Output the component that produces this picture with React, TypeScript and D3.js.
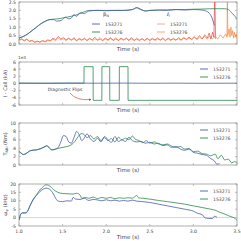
import React from 'react';
import * as d3 from 'd3';

// shot labels
const shots = ['153271', '153276'];

// beta_N [time, value]
const betaN271 = [
  [1.0, 0.35], [1.05, 0.45], [1.1, 0.6], [1.15, 0.8], [1.2, 1.0], [1.25, 1.2], [1.3, 1.35], [1.35, 1.45],
  [1.4, 1.45], [1.43, 1.36], [1.47, 1.38], [1.5, 1.45], [1.53, 1.6], [1.57, 1.5], [1.6, 1.55], [1.63, 1.75],
  [1.66, 1.65], [1.7, 1.85], [1.75, 1.82], [1.8, 1.96], [1.9, 2.0], [2.0, 1.98], [2.1, 2.0], [2.2, 2.0],
  [2.3, 2.05], [2.35, 2.15], [2.4, 2.05], [2.45, 1.96], [2.5, 2.0], [2.6, 2.02], [2.7, 2.0], [2.8, 2.05],
  [2.9, 2.02], [3.0, 2.05], [3.1, 2.02], [3.15, 1.95], [3.18, 1.85], [3.21, 1.6], [3.24, 1.1],
];
const betaN276 = [
  [1.0, 0.35], [1.05, 0.45], [1.1, 0.6], [1.15, 0.8], [1.2, 1.0], [1.25, 1.2], [1.3, 1.35], [1.35, 1.45],
  [1.4, 1.48], [1.45, 1.5], [1.5, 1.55], [1.55, 1.6], [1.6, 1.65], [1.65, 1.72], [1.7, 1.82], [1.75, 1.92],
  [1.8, 2.0], [1.9, 2.0], [2.0, 2.0], [2.1, 2.0], [2.2, 2.0], [2.3, 2.05], [2.35, 2.17], [2.4, 2.05],
  [2.45, 1.97], [2.5, 2.0], [2.6, 2.02], [2.7, 2.03], [2.8, 2.05], [2.9, 2.05], [3.0, 2.07], [3.1, 2.08],
  [3.2, 2.1], [3.3, 2.1], [3.36, 2.1], [3.4, 2.05], [3.45, 1.8], [3.5, 1.5],
];

// l_i [time, value]
const li271 = [
  [1.0, 0.25], [1.03, 0.3], [1.06, 0.18], [1.09, 0.28], [1.12, 0.15], [1.15, 0.2], [1.18, 0.1], [1.21, 0.15],
  [1.24, 0.12], [1.27, 0.2], [1.3, 0.15], [1.33, 0.25], [1.36, 0.2], [1.39, 0.35], [1.42, 0.25], [1.45, 0.45],
  [1.48, 0.3], [1.51, 0.38], [1.54, 0.25], [1.57, 0.35], [1.6, 0.22], [1.63, 0.38], [1.66, 0.2], [1.69, 0.3],
  [1.72, 0.22], [1.75, 0.35], [1.78, 0.2], [1.81, 0.32], [1.84, 0.25], [1.87, 0.4], [1.9, 0.22], [1.93, 0.3],
  [1.96, 0.2], [1.99, 0.35], [2.02, 0.25], [2.05, 0.38], [2.08, 0.2], [2.11, 0.3], [2.14, 0.22], [2.17, 0.35],
  [2.2, 0.25], [2.23, 0.33], [2.26, 0.2], [2.29, 0.38], [2.32, 0.22], [2.35, 0.3], [2.38, 0.2], [2.41, 0.32],
  [2.44, 0.22], [2.47, 0.35], [2.5, 0.2], [2.53, 0.3], [2.56, 0.25], [2.59, 0.36], [2.62, 0.22], [2.65, 0.32],
  [2.68, 0.2], [2.71, 0.35], [2.74, 0.25], [2.77, 0.3], [2.8, 0.22], [2.83, 0.38], [2.86, 0.25], [2.89, 0.35],
  [2.92, 0.28], [2.95, 0.42], [2.98, 0.25], [3.01, 0.4], [3.04, 0.3], [3.07, 0.5], [3.1, 0.3], [3.13, 0.55],
  [3.16, 0.35], [3.18, 0.65], [3.2, 0.3], [3.22, 0.7], [3.235, 0.4], [3.245, 3.0], [3.255, 0.3],
];
const li276 = [
  [1.0, 0.2], [1.03, 0.28], [1.06, 0.22], [1.09, 0.3], [1.12, 0.18], [1.15, 0.22], [1.18, 0.12], [1.21, 0.18],
  [1.24, 0.1], [1.27, 0.18], [1.3, 0.12], [1.33, 0.2], [1.36, 0.18], [1.39, 0.28], [1.42, 0.2], [1.45, 0.35],
  [1.48, 0.25], [1.51, 0.3], [1.54, 0.2], [1.57, 0.32], [1.6, 0.25], [1.63, 0.3], [1.66, 0.18], [1.69, 0.35],
  [1.72, 0.25], [1.75, 0.3], [1.78, 0.22], [1.81, 0.36], [1.84, 0.2], [1.87, 0.3], [1.9, 0.25], [1.93, 0.38],
  [1.96, 0.22], [1.99, 0.3], [2.02, 0.2], [2.05, 0.32], [2.08, 0.25], [2.11, 0.38], [2.14, 0.2], [2.17, 0.3],
  [2.2, 0.22], [2.23, 0.36], [2.26, 0.25], [2.29, 0.3], [2.32, 0.2], [2.35, 0.35], [2.38, 0.25], [2.41, 0.3],
  [2.44, 0.2], [2.47, 0.3], [2.5, 0.25], [2.53, 0.35], [2.56, 0.2], [2.59, 0.3], [2.62, 0.25], [2.65, 0.38],
  [2.68, 0.22], [2.71, 0.3], [2.74, 0.2], [2.77, 0.35], [2.8, 0.25], [2.83, 0.3], [2.86, 0.22], [2.89, 0.4],
  [2.92, 0.25], [2.95, 0.35], [2.98, 0.3], [3.01, 0.45], [3.04, 0.25], [3.07, 0.4], [3.1, 0.3], [3.13, 0.45],
  [3.16, 0.28], [3.19, 0.5], [3.22, 0.3], [3.25, 0.45], [3.28, 0.3], [3.31, 0.55], [3.34, 0.35], [3.37, 0.6],
  [3.385, 0.4], [3.39, 3.0], [3.395, 0.5], [3.41, 0.9], [3.42, 0.4], [3.43, 1.0], [3.44, 0.5], [3.45, 0.8],
  [3.46, 0.35], [3.47, 0.7], [3.48, 0.4], [3.49, 0.6], [3.5, 0.3],
];

// I - C_all (kA)
const coil271 = [
  [1.0, 100], [1.3, 60], [1.6, 120], [1.9, 80], [2.2, 110], [2.5, 70], [2.8, 100], [3.1, 60], [3.5, 90],
];
const coil276 = [
  [1.0, 80], [1.745, 80], [1.746, 4700], [1.85, 4700], [1.851, -4700], [1.95, -4700], [1.951, 4700],
  [2.04, 4700], [2.041, -4700], [2.15, -4700], [2.151, 4700], [2.25, 4700], [2.251, -4700], [3.5, -4700],
];

// T_NBI (Nm)
const torque271 = [
  [1.0, 3.2], [1.02, 2.9], [1.05, 2.5], [1.08, 2.7], [1.12, 3.3], [1.15, 3.5], [1.2, 3.6], [1.25, 3.9],
  [1.3, 4.4], [1.32, 4.6], [1.35, 4.0], [1.38, 3.6], [1.42, 3.8], [1.45, 4.2], [1.48, 5.5], [1.51, 7.0],
  [1.54, 6.8], [1.57, 5.5], [1.6, 5.2], [1.63, 6.5], [1.66, 8.0], [1.69, 7.2], [1.72, 5.8], [1.75, 6.5],
  [1.78, 7.4], [1.82, 6.2], [1.86, 5.6], [1.9, 6.4], [1.94, 5.5], [1.98, 6.8], [2.02, 6.0], [2.06, 5.4],
  [2.1, 6.8], [2.14, 5.6], [2.18, 6.0], [2.22, 5.6], [2.26, 6.6], [2.3, 5.8], [2.35, 5.5], [2.4, 5.6],
  [2.45, 5.2], [2.5, 5.4], [2.55, 5.0], [2.6, 5.2], [2.65, 4.6], [2.7, 4.8], [2.75, 4.2], [2.8, 4.4],
  [2.85, 3.8], [2.9, 3.5], [2.95, 3.8], [3.0, 3.0], [3.05, 2.8], [3.1, 2.5], [3.15, 2.3], [3.2, 1.5],
  [3.24, 1.0], [3.27, 0.2], [3.3, 0.3],
];
const torque276 = [
  [1.0, 3.2], [1.02, 2.9], [1.05, 2.5], [1.08, 2.7], [1.12, 3.3], [1.15, 3.5], [1.2, 3.6], [1.25, 3.9],
  [1.3, 4.4], [1.32, 4.6], [1.35, 4.0], [1.38, 3.6], [1.42, 3.8], [1.48, 4.1], [1.55, 4.4], [1.6, 4.8],
  [1.64, 5.6], [1.68, 6.8], [1.72, 7.5], [1.75, 7.2], [1.78, 6.5], [1.82, 7.0], [1.86, 6.2], [1.9, 6.8],
  [1.94, 5.8], [1.98, 6.5], [2.02, 5.8], [2.06, 6.3], [2.1, 5.5], [2.14, 6.6], [2.18, 6.0], [2.22, 6.4],
  [2.26, 6.0], [2.3, 6.9], [2.33, 6.2], [2.38, 5.8], [2.42, 5.3], [2.46, 5.8], [2.5, 5.2], [2.55, 5.5],
  [2.6, 5.0], [2.65, 4.8], [2.7, 5.0], [2.75, 4.5], [2.8, 4.2], [2.85, 4.4], [2.9, 3.8], [2.95, 3.9],
  [3.0, 3.2], [3.05, 3.3], [3.1, 2.7], [3.15, 2.6], [3.2, 2.2], [3.25, 2.6], [3.28, 1.5], [3.32, 2.3],
  [3.36, 1.2], [3.4, 1.4], [3.44, 0.5], [3.47, 0.8], [3.5, 0.6],
];

// omega_phi (kHz)
const omega271 = [
  [1.0, -1.5], [1.02, 2.0], [1.04, 2.8], [1.08, 2.8], [1.1, 4.0], [1.13, 7.5], [1.16, 10.5], [1.2, 13.2],
  [1.24, 15.5], [1.28, 17.0], [1.31, 17.5], [1.34, 17.2], [1.37, 16.0], [1.4, 13.5], [1.42, 11.5], [1.45, 9.8],
  [1.5, 9.5], [1.55, 10.0], [1.6, 9.8], [1.62, 12.0], [1.65, 11.0], [1.7, 10.8], [1.75, 11.5], [1.8, 10.2],
  [1.85, 10.8], [1.9, 10.5], [1.95, 10.0], [2.0, 10.6], [2.05, 10.0], [2.1, 10.4], [2.15, 9.8], [2.2, 10.2],
  [2.25, 9.8], [2.3, 10.4], [2.35, 9.8], [2.4, 9.6], [2.5, 9.0], [2.6, 8.0], [2.7, 7.0], [2.8, 6.0],
  [2.9, 5.0], [3.0, 3.8], [3.05, 2.5], [3.1, 1.8], [3.13, 0.0], [3.17, -0.5], [3.22, -0.5], [3.24, 0.8],
  [3.27, 0.2],
];
const omega276 = [
  [1.0, -1.5], [1.02, 2.0], [1.04, 2.8], [1.08, 2.8], [1.1, 4.0], [1.13, 7.5], [1.16, 10.5], [1.2, 13.5],
  [1.24, 16.5], [1.28, 18.5], [1.31, 19.5], [1.34, 19.2], [1.37, 18.0], [1.4, 16.5], [1.44, 15.2], [1.48, 14.5],
  [1.55, 14.2], [1.62, 14.0], [1.66, 14.5], [1.7, 13.5], [1.72, 11.5], [1.76, 12.0], [1.8, 11.5], [1.85, 12.2],
  [1.9, 11.3], [1.95, 12.0], [2.0, 11.5], [2.05, 12.0], [2.1, 11.2], [2.15, 11.8], [2.2, 11.5], [2.25, 11.8],
  [2.3, 11.6], [2.33, 12.5], [2.35, 13.2], [2.37, 11.8], [2.42, 11.5], [2.5, 11.0], [2.6, 10.2], [2.7, 9.5],
  [2.8, 8.8], [2.9, 8.0], [3.0, 7.0], [3.1, 6.0], [3.2, 5.0], [3.26, 4.2], [3.3, 3.2], [3.35, 2.3],
  [3.4, 1.2], [3.45, 0.2], [3.48, -0.5], [3.5, -1.8],
];

const timeTicks = [1.0, 1.5, 2.0, 2.5, 3.0, 3.5];

const blue = '#4b5bab';
const green = '#2c8a4c';
const red = '#e8282e';
const orange = '#f07a2c';
const axisColor = '#9a9a9a';
const textColor = '#444';
const font = 'DejaVu Sans, sans-serif';

const left = 19;
const right = 237;

const x = d3.scaleLinear().domain([1.0, 3.5]).range([left, right]);

const panels = [
  { id: 'p1', top: 2, bottom: 44, domain: [0, 2.5], ticks: [0, 0.5, 1.0, 1.5, 2.0, 2.5], fmt: d3.format('.1f') },
  { id: 'p2', top: 62, bottom: 105, domain: [-6000, 6000], ticks: [-6000, -4000, -2000, 0, 2000, 4000, 6000], fmt: (v: number) => String(v / 1000) },
  { id: 'p3', top: 123, bottom: 165, domain: [0, 10], ticks: [0, 2, 4, 6, 8, 10], fmt: (v: number) => String(v) },
  { id: 'p4', top: 184, bottom: 226, domain: [-5, 20], ticks: [-5, 0, 5, 10, 15, 20], fmt: (v: number) => String(v) },
];

const yOf = (p: any) => d3.scaleLinear().domain(p.domain).range([p.bottom, p.top]);

const Frame = ({ p, showX }: any) => {
  const y = yOf(p);
  return (
    <g>
      <rect x={left} y={p.top} width={right - left} height={p.bottom - p.top} fill="none" stroke={axisColor} strokeWidth={0.8} />
      {p.ticks.map((t: number) => (
        <g key={t}>
          <line x1={left} x2={left + 2} y1={y(t)} y2={y(t)} stroke={axisColor} strokeWidth={0.6} />
          <line x1={right} x2={right - 2} y1={y(t)} y2={y(t)} stroke={axisColor} strokeWidth={0.6} />
          <text x={left - 3} y={y(t)} dy="0.35em" textAnchor="end" fontSize={4.6} fill={textColor} fontFamily={font}>
            {p.fmt(t)}
          </text>
        </g>
      ))}
      {timeTicks.map((t) => (
        <g key={t}>
          <line x1={x(t)} x2={x(t)} y1={p.bottom} y2={p.bottom - 2} stroke={axisColor} strokeWidth={0.6} />
          <line x1={x(t)} x2={x(t)} y1={p.top} y2={p.top + 2} stroke={axisColor} strokeWidth={0.6} />
          {showX && (
            <text x={x(t)} y={p.bottom + 6.5} textAnchor="middle" fontSize={4.6} fill={textColor} fontFamily={font}>
              {d3.format('.1f')(t)}
            </text>
          )}
        </g>
      ))}
      <text x={(left + right) / 2} y={p.bottom + (showX ? 13 : 6.5)} textAnchor="middle" fontSize={5.5} fill={textColor} fontFamily={font}>
        Time (s)
      </text>
    </g>
  );
};

const Series = ({ p, data, color, width = 0.8, jagged = false }: any) => {
  const y = yOf(p);
  const line = d3
    .line<number[]>()
    .x((d) => x(d[0]))
    .y((d) => y(d[1]))
    .curve(jagged ? d3.curveLinear : d3.curveMonotoneX);
  return <path d={line(data) || ''} fill="none" stroke={color} strokeWidth={width} clipPath={`url(#clip-${p.id})`} />;
};

const Legend = ({ x0, y0, colors, labels }: any) => (
  <g>
    {labels.map((l: string, i: number) => (
      <g key={l}>
        <line x1={x0} x2={x0 + 8} y1={y0 + i * 8} y2={y0 + i * 8} stroke={colors[i]} strokeWidth={0.9} />
        <text x={x0 + 13} y={y0 + i * 8} dy="0.35em" fontSize={4.6} fill={textColor} fontFamily={font}>
          {l}
        </text>
      </g>
    ))}
  </g>
);

const App = () => {
  const [p1, p2, p3, p4] = panels;
  const yLab = (p: any) => (p.top + p.bottom) / 2;
  const zero4 = yOf(p4)(0);
  return (
    <svg width={241} height={241} style={{ position: 'absolute', left: 0, top: 0, background: '#fff' }}>
      <defs>
        {panels.map((p) => (
          <clipPath key={p.id} id={`clip-${p.id}`}>
            <rect x={left} y={p.top} width={right - left} height={p.bottom - p.top} />
          </clipPath>
        ))}
        <marker id="arrow" viewBox="0 0 6 6" refX={5} refY={3} markerWidth={4} markerHeight={4} orient="auto">
          <path d="M0,0 L6,3 L0,6 z" fill={red} />
        </marker>
      </defs>

      {/* panel 1: beta_N and l_i */}
      <Frame p={p1} showX={false} />
      <Series p={p1} data={li271} color={red} width={0.6} jagged />
      <Series p={p1} data={li276} color={orange} width={0.6} jagged />
      <Series p={p1} data={betaN276} color={green} />
      <Series p={p1} data={betaN271} color={blue} />
      <text x={103} y={16} fontSize={5} fill={textColor} fontFamily={font}>
        β<tspan fontSize={3.5} dy={1}>N</tspan>
      </text>
      <Legend x0={92} y0={24} colors={[blue, green]} labels={shots} />
      <text x={167} y={16} fontSize={5} fill={textColor} fontFamily={font} fontStyle="italic">
        ℓ<tspan fontSize={3.5} dy={1}>i</tspan>
      </text>
      <Legend x0={157} y0={24} colors={['#f4a0a0', '#f4a070']} labels={shots} />

      {/* panel 2: coil current */}
      <Frame p={p2} showX={false} />
      <text x={18} y={59} fontSize={4.2} fill={textColor} fontFamily={font}>1e3</text>
      <Series p={p2} data={coil276} color={green} jagged />
      <Series p={p2} data={coil271} color={blue} />
      <Legend x0={200} y0={69} colors={[blue, green]} labels={shots} />
      <text x={65} y={91} textAnchor="middle" fontSize={4.4} fill={textColor} fontFamily={font}>
        Diagnostic Flips
      </text>
      <path d="M70,93 Q76,101 91,99.5" fill="none" stroke={red} strokeWidth={0.6} markerEnd="url(#arrow)" />
      <text transform={`translate(7,${yLab(p2)}) rotate(-90)`} textAnchor="middle" fontSize={5} fill={textColor} fontFamily={font}>
        I - Call (kA)
      </text>

      {/* panel 3: torque */}
      <Frame p={p3} showX={false} />
      <Series p={p3} data={torque276} color={green} />
      <Series p={p3} data={torque271} color={blue} />
      <Legend x0={200} y0={130} colors={[blue, green]} labels={shots} />
      <text transform={`translate(7,${yLab(p3)}) rotate(-90)`} textAnchor="middle" fontSize={5} fill={textColor} fontFamily={font}>
        T<tspan fontSize={3.5} dy={1}>NBI</tspan>
        <tspan dy={-1}> (Nm)</tspan>
      </text>

      {/* panel 4: rotation */}
      <Frame p={p4} showX={true} />
      <line x1={left} x2={right} y1={zero4} y2={zero4} stroke="#bbb" strokeWidth={0.6} />
      <Series p={p4} data={omega276} color={green} />
      <Series p={p4} data={omega271} color={blue} />
      <Legend x0={200} y0={191} colors={[blue, green]} labels={shots} />
      <text transform={`translate(7,${yLab(p4)}) rotate(-90)`} textAnchor="middle" fontSize={5} fill={textColor} fontFamily={font}>
        ω<tspan fontSize={3.5} dy={1}>φ</tspan>
        <tspan dy={-1}> (kHz)</tspan>
      </text>
    </svg>
  );
};

export default App;
